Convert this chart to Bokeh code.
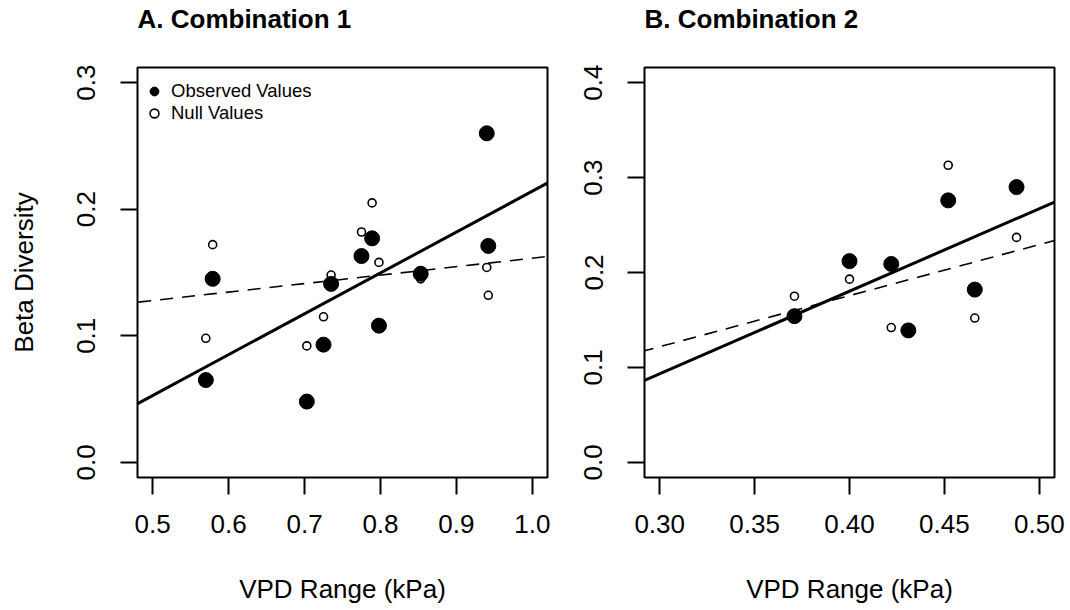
import numpy as np
from bokeh.plotting import figure
from bokeh.models import Range1d, FixedTicker, Slope, Legend, LegendItem, NumeralTickFormatter, Title
from bokeh.layouts import row
from bokeh.embed import file_html
from bokeh.resources import INLINE

# ---------------- data ----------------
# Panel A: Combination 1
a_vpd = [0.570, 0.579, 0.703, 0.725, 0.735, 0.775, 0.789, 0.798, 0.853, 0.940, 0.942]
a_observed = [0.065, 0.145, 0.048, 0.093, 0.141, 0.163, 0.177, 0.108, 0.149, 0.260, 0.171]
a_null = [0.098, 0.172, 0.092, 0.115, 0.148, 0.182, 0.205, 0.158, 0.145, 0.154, 0.132]
a_xticks = [0.5, 0.6, 0.7, 0.8, 0.9, 1.0]
a_xlabels = ["0.5", "0.6", "0.7", "0.8", "0.9", "1.0"]
a_yticks = [0.0, 0.1, 0.2, 0.3]
a_ylabels = ["0.0", "0.1", "0.2", "0.3"]

# Panel B: Combination 2
b_vpd = [0.371, 0.400, 0.422, 0.431, 0.452, 0.466, 0.488]
b_observed = [0.154, 0.212, 0.209, 0.139, 0.276, 0.182, 0.290]
b_null = [0.175, 0.193, 0.142, 0.141, 0.313, 0.152, 0.237]
b_xticks = [0.30, 0.35, 0.40, 0.45, 0.50]
b_xlabels = ["0.30", "0.35", "0.40", "0.45", "0.50"]
b_yticks = [0.0, 0.1, 0.2, 0.3, 0.4]
b_ylabels = ["0.0", "0.1", "0.2", "0.3", "0.4"]

FONT = "Liberation Sans"


def make_panel(title, vpd, obs, null, xlim, ylim, xticks, xlabels, yticks, ylabels,
               ylabel, width, border_left, border_right, fmt, legend=False):
    xpad = (xlim[1] - xlim[0]) * 0.04
    ypad = (ylim[1] - ylim[0]) * 0.04
    p = figure(width=width, height=610,
               x_range=Range1d(xlim[0] - xpad, xlim[1] + xpad),
               y_range=Range1d(ylim[0] - ypad, ylim[1] + ypad),
               output_backend="svg", toolbar_location=None,
               min_border_left=border_left, min_border_right=border_right,
               min_border_top=67, min_border_bottom=133)
    p.grid.visible = False
    p.background_fill_color = "white"
    p.border_fill_color = "white"
    p.outline_line_color = "black"
    p.outline_line_width = 2
    p.outline_line_alpha = 1

    # spacer panel next to the plot box, then the bold panel title above it
    p.add_layout(Title(text=" ", text_font=FONT, text_font_size="10px", standoff=21), "above")
    p.add_layout(Title(text=title, text_font=FONT, text_font_size="26px",
                       text_font_style="bold", text_color="black", align="left",
                       offset=0, standoff=0), "above")

    for ax, ticks, labels in ((p.xaxis, xticks, xlabels), (p.yaxis, yticks, ylabels)):
        ax.ticker = FixedTicker(ticks=ticks)
        ax.formatter = NumeralTickFormatter(format=fmt if ax is p.xaxis else "0.0")
        ax.major_label_overrides = {t: l for t, l in zip(ticks, labels)}
        ax.axis_line_color = None
        ax.major_tick_out = 17
        ax.major_tick_in = 0
        ax.major_tick_line_width = 2
        ax.major_tick_line_color = "black"
        ax.minor_tick_line_color = None
        ax.major_label_text_font = FONT
        ax.major_label_text_font_size = "26px"
        ax.major_label_text_color = "black"
        ax.axis_label_text_font = FONT
        ax.axis_label_text_font_size = "26px"
        ax.axis_label_text_font_style = "normal"
        ax.axis_label_text_color = "black"
    p.xaxis.major_label_standoff = 20
    p.xaxis.axis_label = "VPD Range (kPa)"
    p.xaxis.axis_label_standoff = 38
    p.yaxis.major_label_orientation = "vertical"
    p.yaxis.major_label_standoff = 25
    if ylabel:
        p.yaxis.axis_label = ylabel
        p.yaxis.axis_label_standoff = 36

    r_obs = p.scatter(vpd, obs, size=15, marker="circle", fill_color="black", line_color="black")
    r_null = p.scatter(vpd, null, size=8, marker="circle", fill_color=None,
                       line_color="black", line_width=1.6)

    m_obs, b_obs = np.polyfit(vpd, obs, 1)
    m_null, b_null = np.polyfit(vpd, null, 1)
    p.add_layout(Slope(gradient=m_obs, y_intercept=b_obs, line_color="black", line_width=3))
    p.add_layout(Slope(gradient=m_null, y_intercept=b_null, line_color="black",
                       line_width=1.6, line_dash="13 9"))

    if legend:
        lg = Legend(items=[LegendItem(label="Observed Values", renderers=[r_obs]),
                           LegendItem(label="Null Values", renderers=[r_null])],
                    location=(6, 353), glyph_width=22, glyph_height=22, label_height=22,
                    label_standoff=6, padding=0, margin=0, spacing=0,
                    border_line_color=None, background_fill_alpha=0,
                    label_text_font=FONT, label_text_font_size="18.5px",
                    label_text_color="black")
        p.add_layout(lg)
    return p


pA = make_panel("A. Combination 1", a_vpd, a_observed, a_null, (0.5, 1.0), (0.0, 0.3),
                a_xticks, a_xlabels, a_yticks, a_ylabels, "Beta Diversity", 555, 137, 8, "0.0",
                legend=True)
pB = make_panel("B. Combination 2", b_vpd, b_observed, b_null, (0.3, 0.5), (0.0, 0.4),
                b_xticks, b_xlabels, b_yticks, b_ylabels, None, 515, 89, 16, "0.00")

layout = row(pA, pB)
open("out.html", "w").write(file_html(layout, INLINE))
